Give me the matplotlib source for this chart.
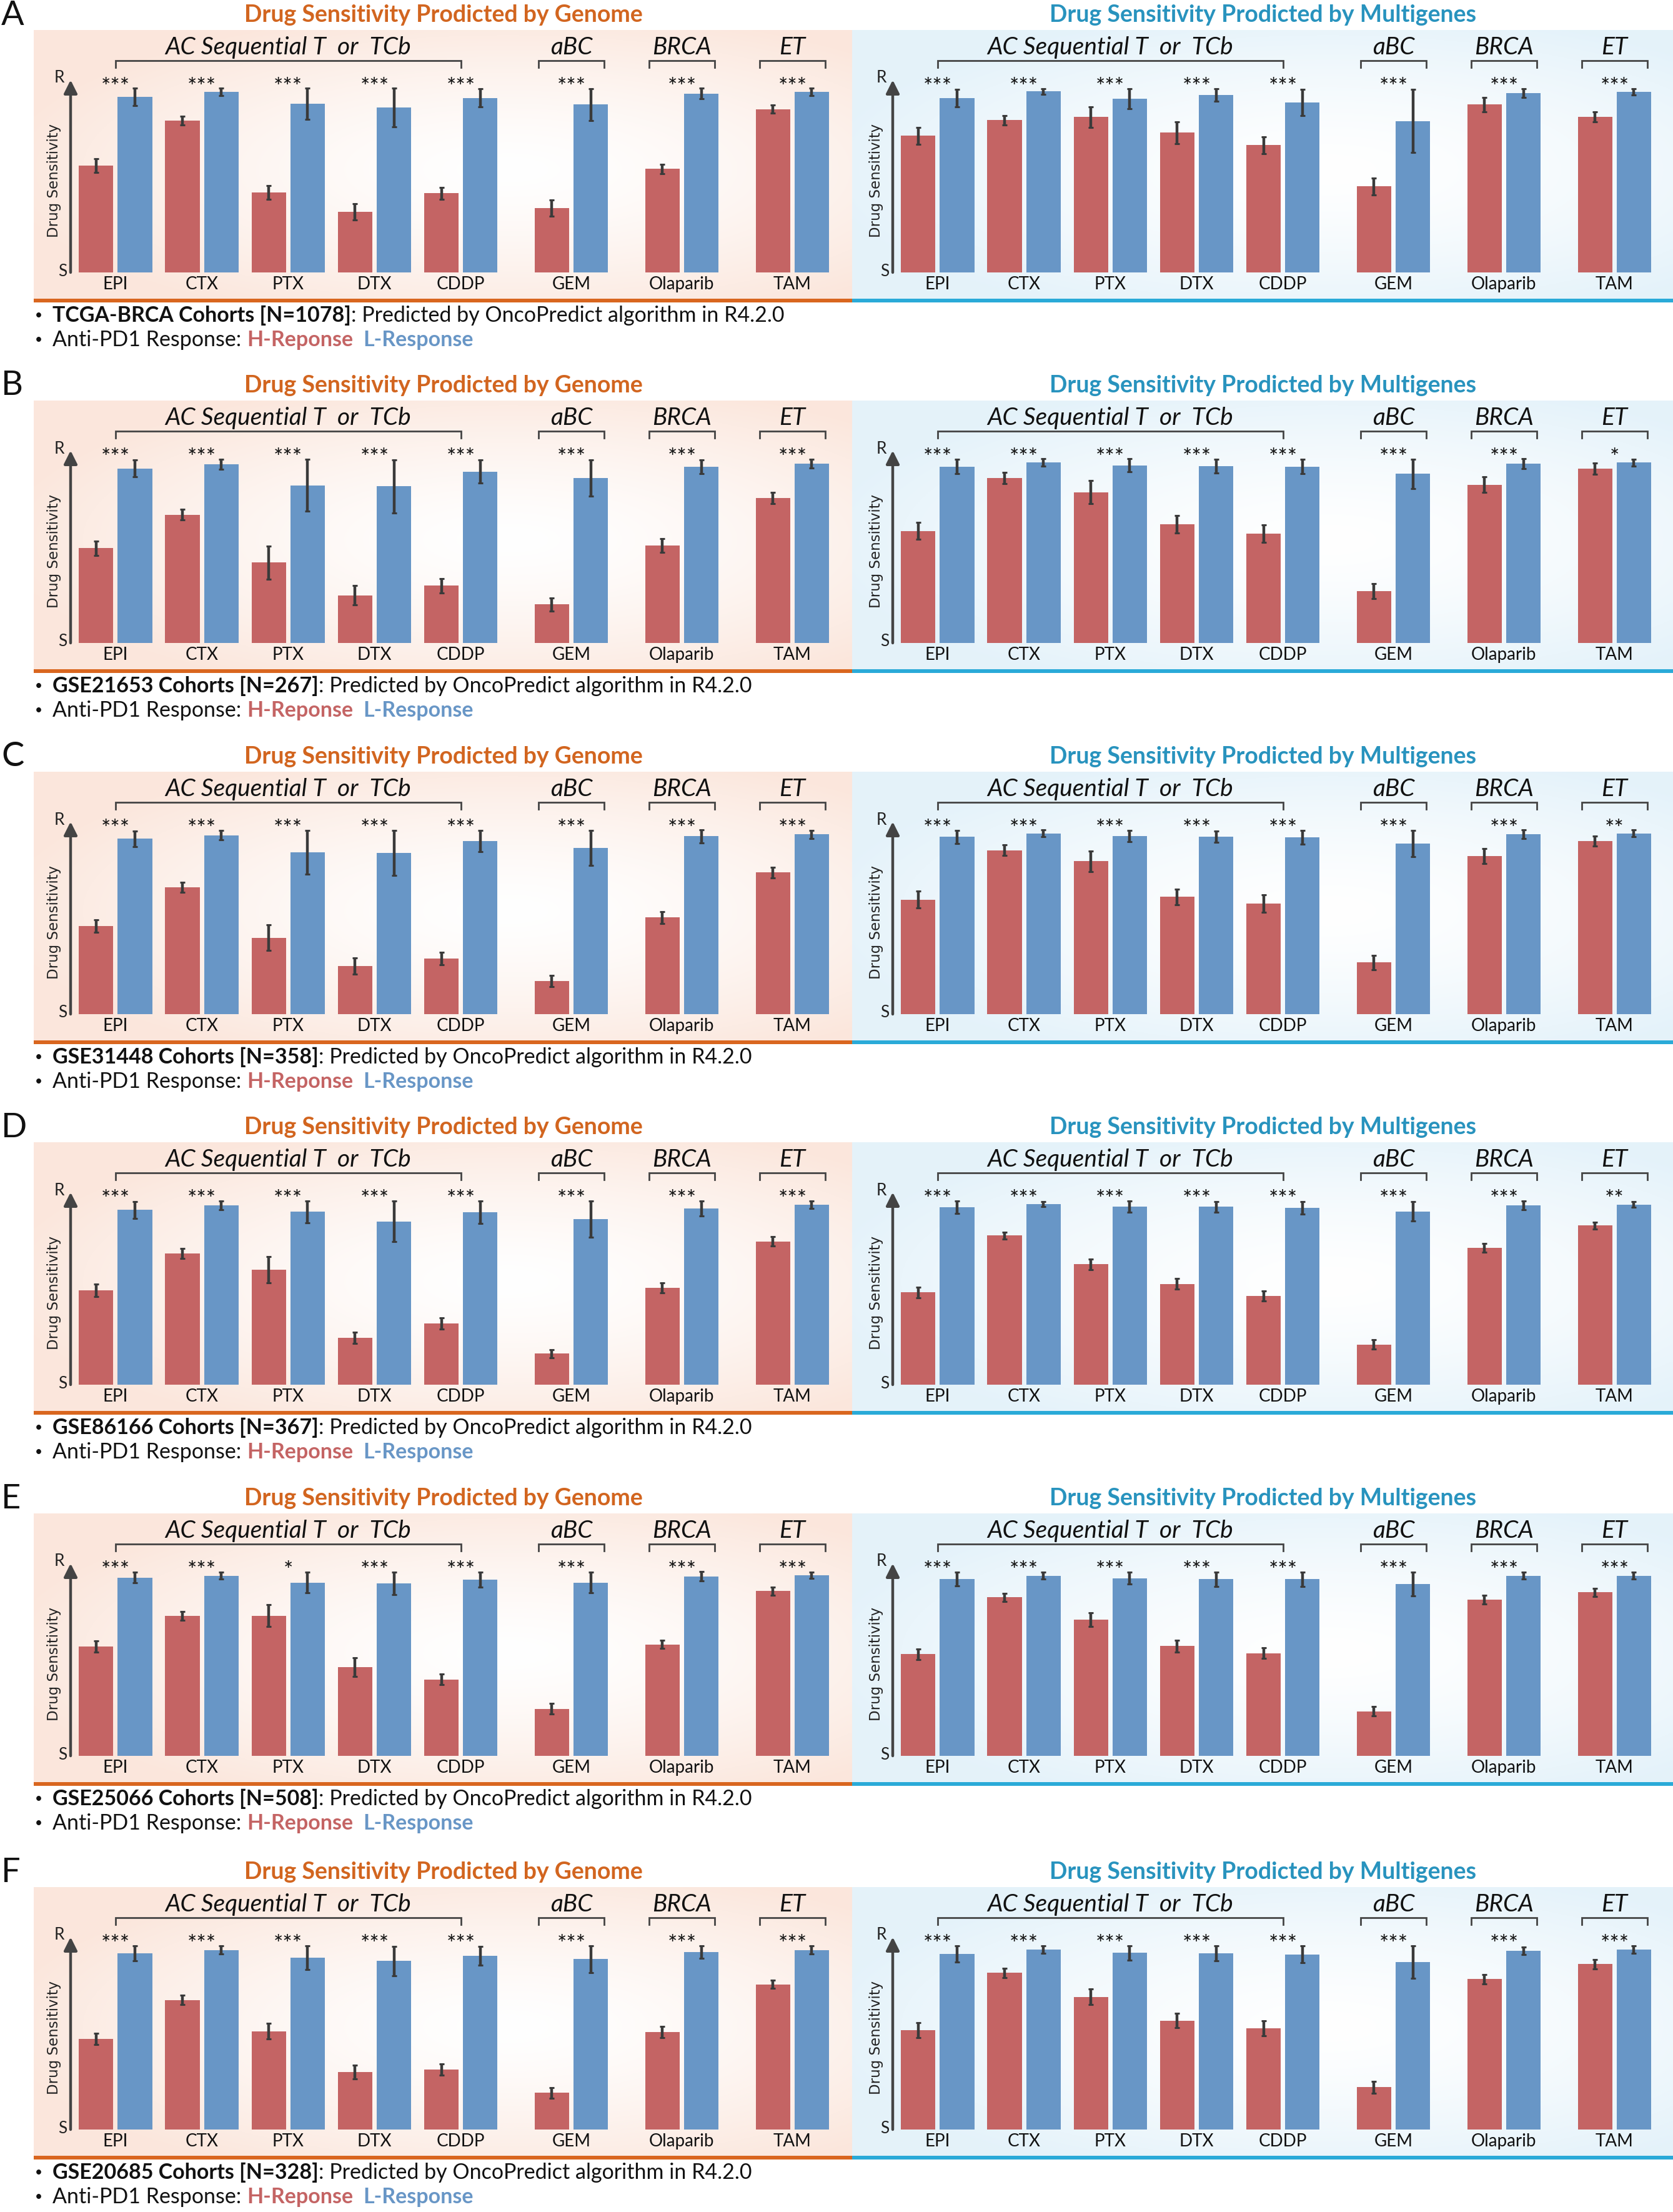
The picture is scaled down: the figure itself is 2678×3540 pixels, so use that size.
import numpy as np
import matplotlib
matplotlib.use("Agg")
import matplotlib.pyplot as plt

# ---- data (0 = S ... 100 = R) ----
drugs = ["EPI", "CTX", "PTX", "DTX", "CDDP", "GEM", "Olaparib", "TAM"]
drug_group = [0, 0, 0, 0, 0, 1, 2, 3]
group_names = ["AC Sequential T  or  TCb", "aBC", "BRCA", "ET"]
letters = ["A", "B", "C", "D", "E", "F"]
cohorts = ["TCGA-BRCA Cohorts [N=1078]", "GSE21653 Cohorts [N=267]", "GSE31448 Cohorts [N=358]",
           "GSE86166 Cohorts [N=367]", "GSE25066 Cohorts [N=508]", "GSE20685 Cohorts [N=328]"]

A_gen_h = [54.9, 77.8, 41.1, 31.1, 40.6, 32.9, 53.2, 83.8]
A_gen_h_err = [3.5, 2.3, 3.6, 4.3, 3.1, 4.2, 2.4, 2.1]
A_gen_l = [90.1, 92.6, 86.5, 84.6, 89.5, 86.1, 91.7, 92.6]
A_gen_l_err = [4.4, 1.8, 8.0, 9.9, 4.7, 8.2, 2.7, 1.8]
A_mul_h = [70.1, 78.1, 79.7, 71.7, 65.3, 44.1, 86.1, 79.8]
A_mul_h_err = [4.3, 2.4, 5.2, 5.6, 4.3, 4.3, 3.7, 2.7]
A_mul_l = [89.5, 92.9, 89.0, 90.9, 87.2, 77.7, 91.9, 92.6]
A_mul_l_err = [4.5, 1.4, 5.1, 3.2, 6.8, 16.3, 2.3, 1.6]
A_gen_sig = ["***"] * 8
A_mul_sig = ["***"] * 8

B_gen_h = [48.6, 65.8, 41.2, 24.5, 29.4, 19.8, 50.0, 74.3]
B_gen_h_err = [3.7, 2.8, 8.4, 5.0, 3.6, 3.4, 3.4, 2.8]
B_gen_l = [89.5, 91.6, 80.9, 80.3, 87.9, 84.7, 90.5, 91.9]
B_gen_l_err = [4.4, 2.6, 13.2, 13.6, 6.0, 9.3, 3.5, 2.2]
B_mul_h = [57.4, 84.7, 77.4, 60.8, 56.1, 26.6, 81.2, 89.5]
B_mul_h_err = [4.3, 2.9, 5.8, 4.5, 4.4, 3.7, 3.9, 2.9]
B_mul_l = [90.4, 92.6, 91.1, 90.7, 90.5, 86.8, 92.0, 92.5]
B_mul_l_err = [3.7, 1.9, 3.3, 3.4, 3.8, 7.5, 2.5, 1.8]
B_gen_sig = ["***"] * 8
B_mul_sig = ["***"] * 7 + ["*"]

C_gen_h = [45.1, 65.1, 39.2, 24.8, 28.6, 17.1, 49.6, 72.6]
C_gen_h_err = [3.2, 2.5, 6.6, 4.2, 3.2, 2.9, 3.0, 2.6]
C_gen_l = [90.0, 91.7, 82.9, 82.7, 88.7, 85.3, 91.2, 92.2]
C_gen_l_err = [4.0, 2.4, 11.2, 11.5, 5.5, 9.0, 3.3, 2.1]
C_mul_h = [58.8, 84.0, 78.4, 60.1, 56.7, 26.5, 81.2, 88.8]
C_mul_h_err = [4.3, 2.7, 5.3, 4.1, 4.4, 3.7, 3.8, 2.7]
C_mul_l = [90.9, 92.7, 91.3, 91.1, 90.7, 87.4, 92.3, 92.7]
C_mul_l_err = [3.3, 1.8, 2.9, 2.9, 3.5, 6.7, 2.2, 1.7]
C_gen_sig = ["***"] * 8
C_mul_sig = ["***"] * 7 + ["**"]

D_gen_h = [48.4, 67.4, 58.9, 23.9, 31.4, 16.0, 49.7, 73.5]
D_gen_h_err = [3.2, 2.6, 6.8, 2.9, 2.8, 2.1, 2.7, 2.5]
D_gen_l = [89.6, 92.0, 88.7, 83.8, 88.4, 85.0, 90.4, 92.4]
D_gen_l_err = [4.4, 2.2, 5.6, 10.4, 5.8, 9.2, 3.8, 1.9]
D_mul_h = [47.3, 76.5, 61.8, 51.7, 45.5, 20.6, 70.2, 81.6]
D_mul_h_err = [2.7, 1.8, 2.7, 2.7, 2.5, 2.4, 2.1, 1.7]
D_mul_l = [90.9, 92.6, 91.3, 91.2, 90.8, 88.9, 92.0, 92.4]
D_mul_l_err = [3.2, 1.4, 2.8, 2.8, 3.2, 5.0, 2.1, 1.4]
D_gen_sig = ["***"] * 8
D_mul_sig = ["***"] * 7 + ["**"]

E_gen_h = [56.0, 71.8, 71.9, 45.4, 39.2, 24.1, 57.2, 84.5]
E_gen_h_err = [2.9, 2.1, 5.7, 4.8, 2.7, 2.7, 2.1, 2.1]
E_gen_l = [91.5, 92.4, 88.9, 88.5, 90.3, 88.9, 92.1, 92.5]
E_gen_l_err = [2.8, 1.7, 5.3, 5.7, 3.8, 5.3, 2.4, 1.6]
E_mul_h = [52.1, 81.3, 69.9, 56.3, 52.7, 22.9, 80.2, 83.9]
E_mul_h_err = [2.8, 2.1, 3.4, 3.0, 2.8, 2.4, 2.2, 2.1]
E_mul_l = [90.7, 92.4, 91.1, 90.6, 90.6, 88.0, 92.4, 92.4]
E_mul_l_err = [3.5, 1.7, 3.1, 3.6, 3.6, 6.1, 1.7, 1.7]
E_gen_sig = ["***", "***", "*", "***", "***", "***", "***", "***"]
E_mul_sig = ["***"] * 8

F_gen_h = [46.5, 66.5, 50.4, 29.5, 30.8, 18.8, 50.0, 74.5]
F_gen_h_err = [3.0, 2.4, 4.0, 3.4, 2.9, 2.7, 3.0, 2.2]
F_gen_l = [90.4, 92.1, 88.1, 86.5, 89.1, 87.4, 91.0, 92.1]
F_gen_l_err = [3.8, 2.1, 6.1, 7.5, 4.9, 6.8, 3.2, 2.1]
F_mul_h = [51.0, 80.3, 68.1, 55.9, 51.9, 21.7, 77.1, 84.8]
F_mul_h_err = [3.8, 2.5, 4.0, 3.7, 3.8, 3.1, 2.5, 2.5]
F_mul_l = [90.1, 92.3, 90.6, 90.4, 89.9, 85.8, 91.6, 92.3]
F_mul_l_err = [4.2, 2.0, 3.7, 3.9, 4.3, 8.3, 2.0, 2.0]
F_gen_sig = ["***"] * 8
F_mul_sig = ["***"] * 8

panels = [
    ((A_gen_h, A_gen_h_err, A_gen_l, A_gen_l_err, A_gen_sig), (A_mul_h, A_mul_h_err, A_mul_l, A_mul_l_err, A_mul_sig)),
    ((B_gen_h, B_gen_h_err, B_gen_l, B_gen_l_err, B_gen_sig), (B_mul_h, B_mul_h_err, B_mul_l, B_mul_l_err, B_mul_sig)),
    ((C_gen_h, C_gen_h_err, C_gen_l, C_gen_l_err, C_gen_sig), (C_mul_h, C_mul_h_err, C_mul_l, C_mul_l_err, C_mul_sig)),
    ((D_gen_h, D_gen_h_err, D_gen_l, D_gen_l_err, D_gen_sig), (D_mul_h, D_mul_h_err, D_mul_l, D_mul_l_err, D_mul_sig)),
    ((E_gen_h, E_gen_h_err, E_gen_l, E_gen_l_err, E_gen_sig), (E_mul_h, E_mul_h_err, E_mul_l, E_mul_l_err, E_mul_sig)),
    ((F_gen_h, F_gen_h_err, F_gen_l, F_gen_l_err, F_gen_sig), (F_mul_h, F_mul_h_err, F_mul_l, F_mul_l_err, F_mul_sig)),
]

# ---- style ----
W, H = 2678, 3540
RED = "#C46464"
BLUE = "#6896C6"
ORANGE = "#D2651F"
TEAL = "#2893BE"
LINE_OR = "#D9661F"
LINE_TE = "#2AAAD8"
DARK = "#3a3a3a"
FONT = ["Lato", "DejaVu Sans"]
plt.rcParams["font.family"] = FONT

panel_off = [0, 593, 1187, 1780, 2374, 2972]
UNIT_PX = 138.2      # px between two drugs
Y100_PX = 312.0      # px from S to R
XMIN, XMAX = -0.52, 8.35

xpos = np.arange(len(drugs)) + 0.28 * np.array(drug_group)

fig = plt.figure(figsize=(W / 100, H / 100), dpi=100)
fig.patch.set_facecolor("white")


def fbox(x0, y0, x1, y1):
    # pixel box (top-left origin) -> figure fraction rect
    return [x0 / W, 1 - y1 / H, (x1 - x0) / W, (y1 - y0) / H]


def soft_panel(x0, x1, y0, y1, edge):
    bg = fig.add_axes(fbox(x0, y0, x1, y1))
    yy, xx = np.mgrid[0:1:120j, 0:1:300j]
    d = np.clip(np.hypot((xx - 0.58) / 0.62, (yy - 0.52) / 0.60), 0, 1) ** 1.4
    img = 1 - (1 - np.array(edge))[None, None, :] * d[..., None]
    bg.imshow(img, aspect="auto", extent=(0, 1, 0, 1), interpolation="bilinear")
    bg.set_axis_off()


def px2y(px_above):
    return px_above / Y100_PX * 100


def draw_half(ax, h, h_err, l, l_err, sig):
    ax.set_xlim(XMIN, XMAX)
    ax.set_ylim(0, 100)
    ax.patch.set_alpha(0)
    for s in ax.spines.values():
        s.set_visible(False)
    ax.set_xticks([])
    ax.set_yticks([])
    ekw = dict(ecolor=DARK, elinewidth=3.2, capsize=3.0, capthick=2.2, zorder=4)
    ax.bar(xpos - 0.225, h, 0.40, color=RED, yerr=h_err, error_kw=ekw, zorder=3)
    ax.bar(xpos + 0.225, l, 0.40, color=BLUE, yerr=l_err, error_kw=ekw, zorder=3)

    # arrow axis
    ax.annotate("", xy=(XMIN, px2y(308)), xytext=(XMIN, 0), xycoords="data",
                arrowprops=dict(arrowstyle="-|>", lw=3.2, color="#444444",
                                mutation_scale=32, shrinkA=0, shrinkB=0),
                annotation_clip=False)
    ax.text(XMIN - 0.13, px2y(311), "R", ha="center", va="center", fontsize=19, color="#222222")
    ax.text(XMIN - 0.09, px2y(2), "S", ha="center", va="center", fontsize=19, color="#222222")
    ax.text(XMIN - 0.19, 47, "Drug Sensitivity", rotation=90, ha="center", va="center",
            fontsize=16.5, family="DejaVu Sans", color="#222222")

    for x, name, st in zip(xpos, drugs, sig):
        ax.text(x, px2y(-19), name, ha="center", va="center", fontsize=20, color="#111111", clip_on=False)
        ax.text(x, px2y(285), st, ha="center", va="baseline", fontsize=26, color="#111111", clip_on=False)

    # group brackets and labels
    y_top = px2y(339)
    y_tip = px2y(328)
    for g, gname in enumerate(group_names):
        members = xpos[np.array(drug_group) == g]
        a, b = members.min(), members.max()
        if a == b:
            a, b = a - 0.38, b + 0.38
        ax.plot([a, a, b, b], [y_tip, y_top, y_top, y_tip], color="#444444", lw=2.0,
                clip_on=False, solid_joinstyle="miter")
        ax.text((a + b) / 2, px2y(360), gname, ha="center", va="center", fontsize=28,
                style="italic", color="#111111", clip_on=False)


def text_line(x_px, y_px, pieces):
    r = fig.canvas.get_renderer()
    x = x_px
    for s, weight, color, size in pieces:
        core = s.strip(" ")
        lead = len(s) - len(s.lstrip(" "))
        trail = len(s) - len(s.rstrip(" "))
        probe1 = fig.text(0, 0, "a a", fontsize=size, fontweight=weight)
        probe2 = fig.text(0, 0, "aa", fontsize=size, fontweight=weight)
        sp = probe1.get_window_extent(r).width - probe2.get_window_extent(r).width
        probe1.remove()
        probe2.remove()
        x += lead * sp
        t = fig.text(x / W, 1 - y_px / H, core, fontsize=size, fontweight=weight,
                     color=color, ha="left", va="center")
        x += t.get_window_extent(r).width + trail * sp


for k, (gen, mul) in enumerate(panels):
    off = panel_off[k]
    bottom = 436 + off

    soft_panel(54, 1364, 48 + off, 478 + off, (0.985, 0.905, 0.865))
    soft_panel(1364, 2678, 48 + off, 478 + off, (0.895, 0.950, 0.980))
    fig.add_artist(plt.Rectangle((54 / W, 1 - (484 + off) / H), (1364 - 54) / W, 6 / H,
                                 transform=fig.transFigure, color=LINE_OR, lw=0))
    fig.add_artist(plt.Rectangle((1364 / W, 1 - (484 + off) / H), (2678 - 1364) / W, 6 / H,
                                 transform=fig.transFigure, color=LINE_TE, lw=0))

    for x0, half in ((113, gen), (1429, mul)):
        width_px = (XMAX - XMIN) * UNIT_PX
        ax = fig.add_axes(fbox(x0, bottom - Y100_PX, x0 + width_px, bottom))
        draw_half(ax, *half)

    fig.text(2 / W, 1 - (24 + off) / H, letters[k], fontsize=39, ha="left", va="center", color="#111111")
    fig.text(710 / W, 1 - (24 + off) / H, "Drug Sensitivity Prodicted by Genome", fontsize=27,
             fontweight="bold", color=ORANGE, ha="center", va="center")
    fig.text(2022 / W, 1 - (24 + off) / H, "Drug Sensitivity Prodicted by Multigenes", fontsize=27,
             fontweight="bold", color=TEAL, ha="center", va="center")

    text_line(56, 505 + off, [("\u2022   ", "normal", "#111111", 15),
                              (cohorts[k], "bold", "#111111", 24.5),
                              (": Predicted by OncoPredict algorithm in R4.2.0", "normal", "#111111", 24.5)])
    text_line(56, 544 + off, [("\u2022   ", "normal", "#111111", 15),
                              ("Anti-PD1 Response: ", "normal", "#111111", 24.5),
                              ("H-Reponse  ", "bold", RED, 24.5),
                              ("L-Response", "bold", BLUE, 24.5)])

fig.savefig("out.png", dpi=100, facecolor="white")
